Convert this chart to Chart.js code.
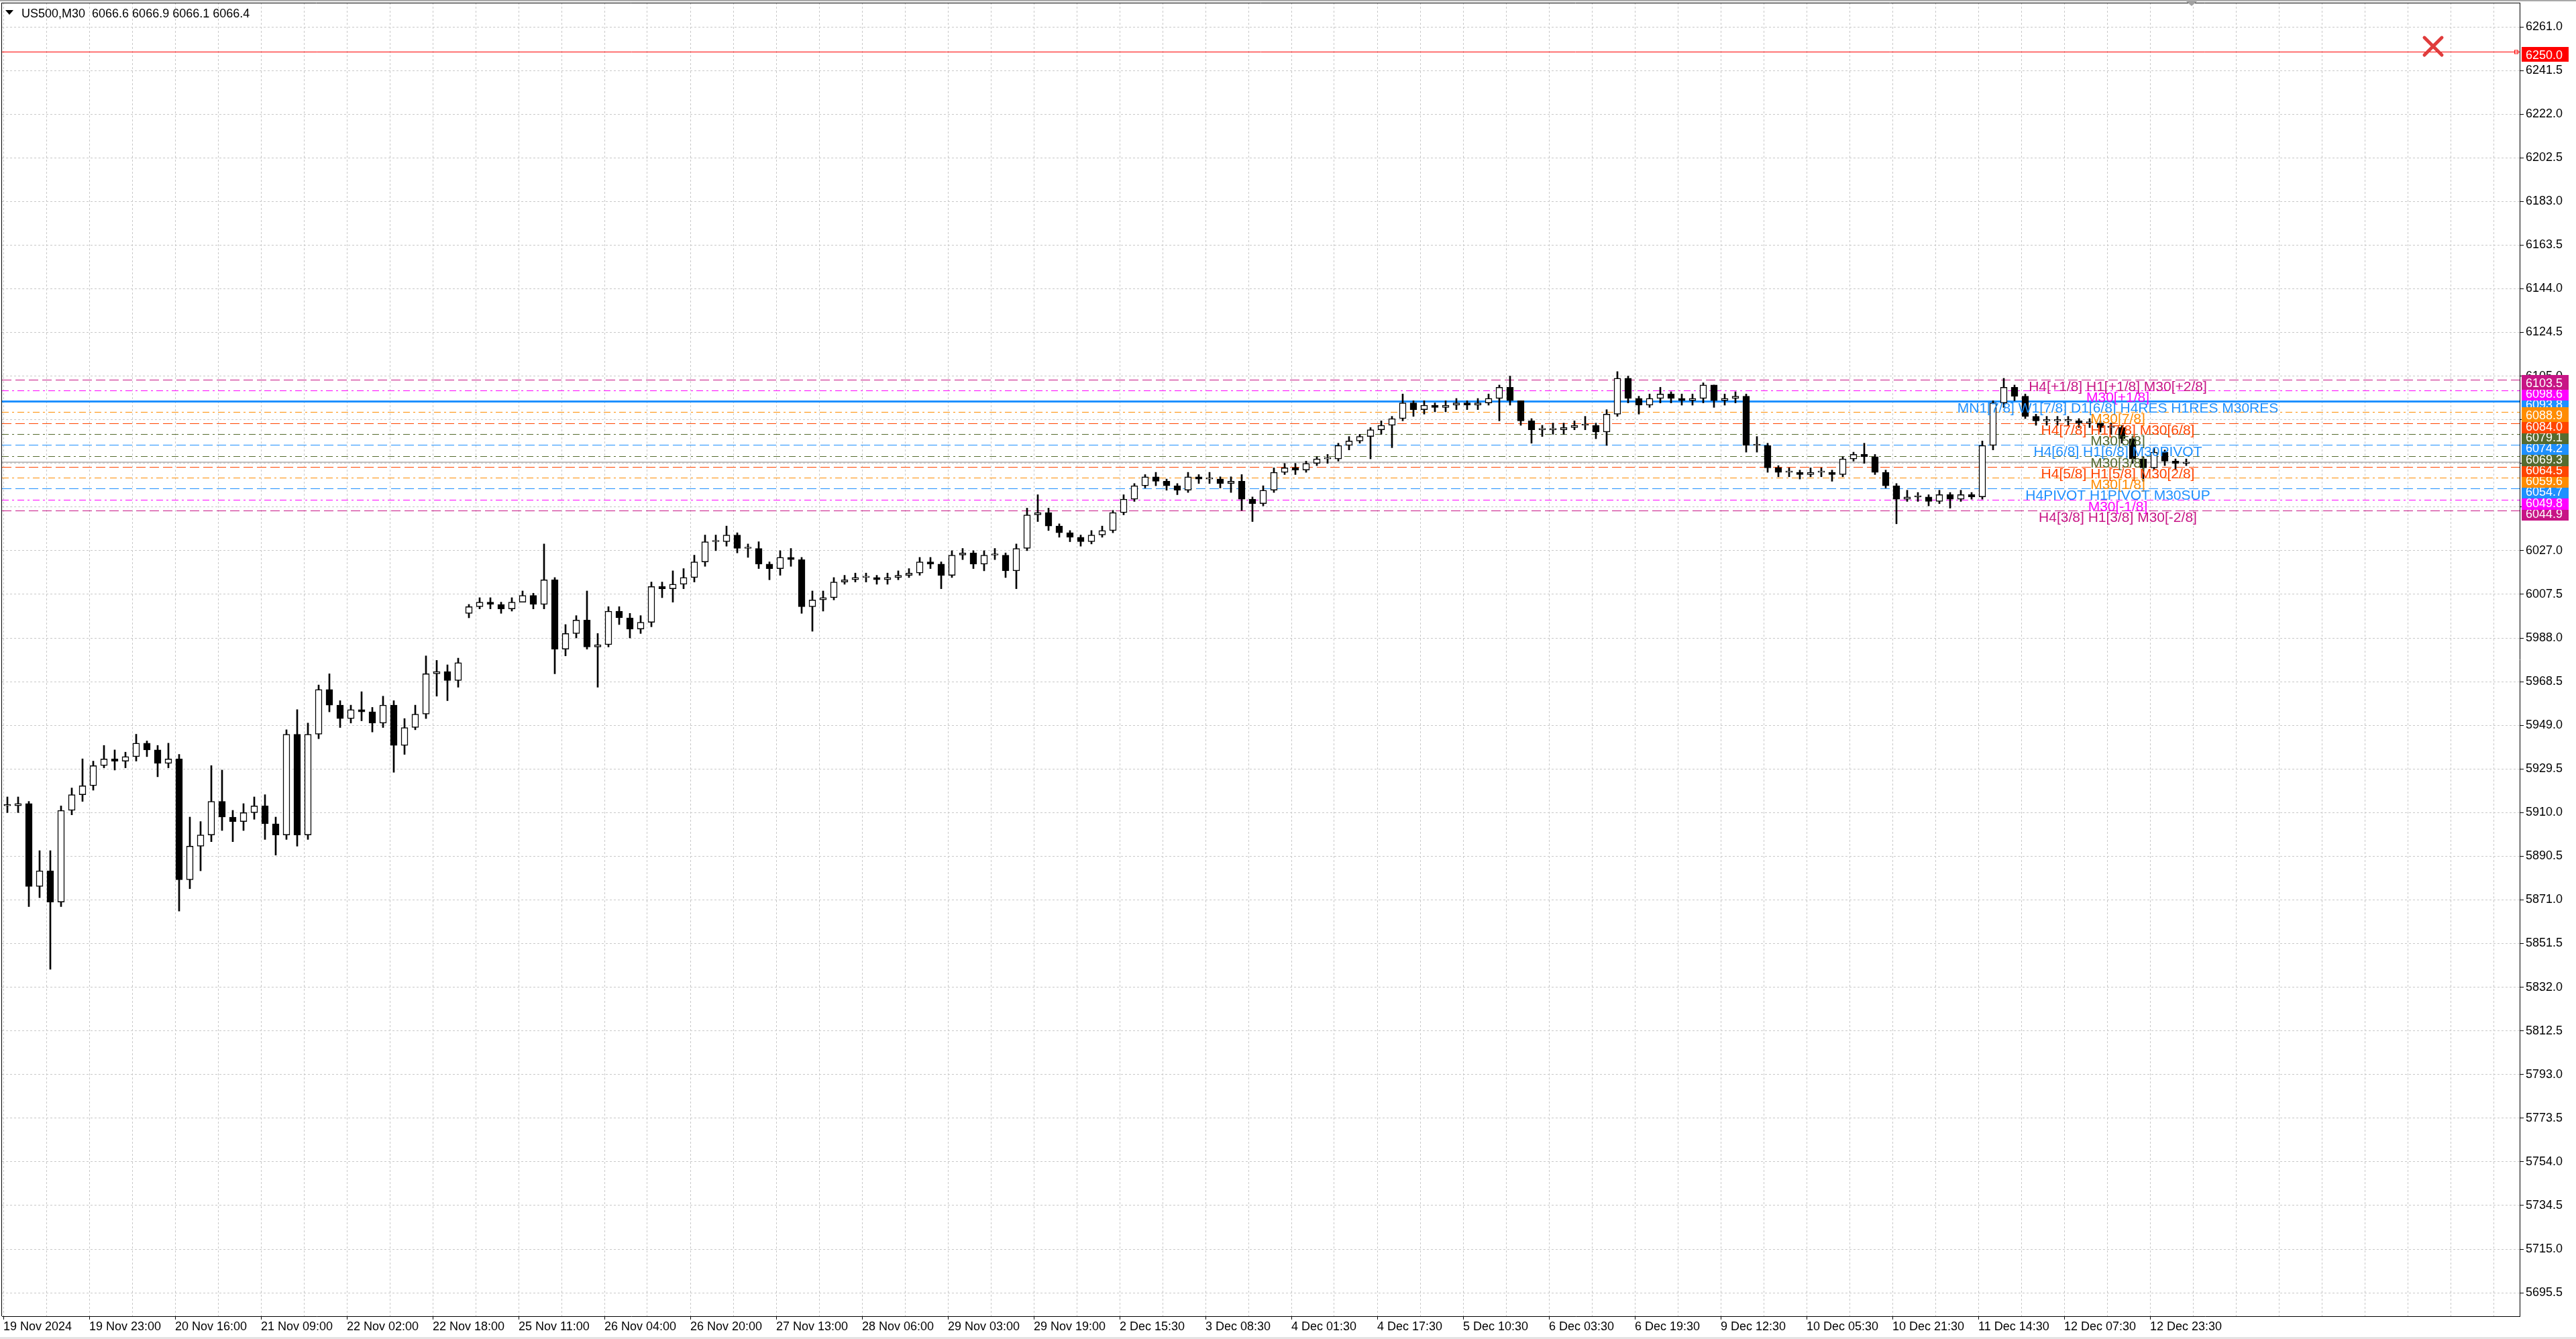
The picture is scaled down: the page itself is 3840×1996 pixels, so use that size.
<!DOCTYPE html>
<html>
<head>
<meta charset="utf-8">
<title>US500,M30</title>
<script src="https://cdn.jsdelivr.net/npm/chart.js"></script>
<style>
  html, body { margin: 0; padding: 0; background: #fff; overflow: hidden; }
  canvas { display: block; }
</style>
</head>
<body>
<canvas id="chart" width="3840" height="1996"></canvas>
<script>
// ================== ДАННЫЕ ================== //

// Подписи оси времени (каждые 32 бара M30)
const timeLabels = [
  '19 Nov 2024', '19 Nov 23:00', '20 Nov 16:00', '21 Nov 09:00', '22 Nov 02:00', '22 Nov 18:00',
  '25 Nov 11:00', '26 Nov 04:00', '26 Nov 20:00', '27 Nov 13:00', '28 Nov 06:00', '29 Nov 03:00',
  '29 Nov 19:00', '2 Dec 15:30', '3 Dec 08:30', '4 Dec 01:30', '4 Dec 17:30', '5 Dec 10:30',
  '6 Dec 03:30', '6 Dec 19:30', '9 Dec 12:30', '10 Dec 05:30', '10 Dec 21:30', '11 Dec 14:30',
  '12 Dec 07:30', '12 Dec 23:30'
];

// Деления ценовой шкалы
const priceTicks = [
  5695.5, 5715.0, 5734.5, 5754.0, 5773.5, 5793.0, 5812.5, 5832.0, 5851.5, 5871.0,
  5890.5, 5910.0, 5929.5, 5949.0, 5968.5, 5988.0, 6007.5, 6027.0, 6046.5, 6066.0,
  6085.5, 6105.0, 6124.5, 6144.0, 6163.5, 6183.0, 6202.5, 6222.0, 6241.5, 6261.0
];

// Свечи (по 4 бара M30 на свечу)
const opens = [
  5913, 5913, 5914, 5877, 5884, 5870, 5911, 5918, 5922, 5931,
  5934, 5933, 5935, 5941, 5938, 5932, 5934, 5880, 5895, 5900,
  5915, 5908, 5906, 5910, 5913, 5905, 5900, 5945, 5900, 5945,
  5965, 5958, 5952, 5956, 5955, 5950, 5958, 5940, 5948, 5954,
  5972, 5973, 5969, 5999, 6002, 6004, 6003, 6001, 6004, 6007,
  6003, 6014, 5983, 5990, 5996, 5984, 5985, 6000, 5997, 5992,
  5995, 6011, 6010, 6012, 6015, 6022, 6031, 6031, 6034, 6028,
  6028, 6021, 6019, 6024, 6023, 6002, 6005, 6006, 6013, 6014,
  6015, 6015, 6014, 6015, 6016, 6017, 6022, 6021, 6016, 6025,
  6026, 6021, 6025, 6025, 6018, 6028, 6043, 6044, 6038, 6035,
  6033, 6031, 6034, 6036, 6044, 6050, 6056, 6060, 6058, 6056,
  6054, 6060, 6059, 6059, 6057, 6058, 6050, 6048, 6054, 6062,
  6064, 6063, 6066, 6068, 6068, 6074, 6076, 6078, 6081, 6083,
  6086, 6093, 6090, 6092, 6091, 6092, 6093, 6092, 6093, 6095,
  6100, 6094, 6085, 6081, 6081, 6081, 6082, 6083, 6083, 6080,
  6088, 6104, 6095, 6092, 6095, 6097, 6095, 6094, 6095, 6101,
  6094, 6095, 6096, 6074, 6074, 6064, 6062, 6062, 6061, 6062,
  6062, 6061, 6068, 6070, 6069, 6062, 6056, 6050, 6051, 6051,
  6049, 6052, 6050, 6052, 6051, 6074, 6093, 6100, 6096, 6087,
  6085, 6085, 6085, 6085, 6084, 6084, 6082, 6082, 6077, 6068,
  6064, 6071, 6067, 6066
];
const highs = [
  5917, 5917, 5915, 5893, 5893, 5913, 5921, 5934, 5933, 5940,
  5938, 5937, 5945, 5942, 5940, 5941, 5936, 5908, 5906, 5931,
  5929, 5911, 5914, 5917, 5918, 5908, 5947, 5956, 5950, 5967,
  5972, 5960, 5958, 5964, 5957, 5962, 5960, 5952, 5958, 5980,
  5978, 5976, 5979, 6003, 6006, 6006, 6004, 6006, 6009, 6008,
  6030, 6015, 5994, 5998, 6009, 5990, 6002, 6002, 5999, 5998,
  6013, 6013, 6018, 6019, 6025, 6034, 6034, 6038, 6035, 6030,
  6031, 6022, 6027, 6028, 6024, 6009, 6009, 6015, 6016, 6017,
  6017, 6016, 6017, 6018, 6019, 6024, 6024, 6022, 6027, 6028,
  6027, 6027, 6028, 6026, 6030, 6046, 6052, 6046, 6039, 6036,
  6034, 6036, 6038, 6045, 6052, 6057, 6061, 6062, 6059, 6057,
  6062, 6061, 6062, 6060, 6060, 6061, 6051, 6056, 6064, 6066,
  6066, 6067, 6069, 6070, 6075, 6078, 6079, 6082, 6085, 6087,
  6097, 6094, 6094, 6093, 6094, 6095, 6094, 6095, 6097, 6101,
  6105, 6094, 6086, 6083, 6084, 6084, 6085, 6087, 6084, 6090,
  6107, 6105, 6096, 6097, 6100, 6098, 6097, 6097, 6102, 6101,
  6097, 6098, 6097, 6078, 6075, 6065, 6064, 6063, 6064, 6064,
  6063, 6069, 6071, 6075, 6070, 6063, 6057, 6054, 6053, 6052,
  6054, 6053, 6054, 6053, 6076, 6094, 6104, 6101, 6097, 6088,
  6087, 6087, 6087, 6086, 6086, 6085, 6084, 6083, 6078, 6069,
  6073, 6072, 6068, 6068
];
const lows = [
  5910, 5910, 5868, 5872, 5840, 5868, 5909, 5915, 5920, 5930,
  5929, 5930, 5933, 5935, 5926, 5930, 5866, 5876, 5884, 5897,
  5902, 5897, 5902, 5907, 5898, 5891, 5898, 5895, 5898, 5943,
  5955, 5948, 5950, 5951, 5946, 5948, 5928, 5936, 5947, 5952,
  5962, 5960, 5966, 5997, 6001, 6001, 5999, 6000, 6004, 6001,
  6001, 5972, 5980, 5988, 5983, 5966, 5984, 5994, 5988, 5990,
  5993, 6006, 6004, 6010, 6013, 6020, 6027, 6029, 6026, 6024,
  6019, 6014, 6016, 6020, 5999, 5991, 6000, 6005, 6012, 6013,
  6013, 6012, 6012, 6014, 6015, 6016, 6019, 6010, 6015, 6023,
  6019, 6018, 6023, 6015, 6010, 6027, 6040, 6036, 6033, 6031,
  6029, 6030, 6033, 6035, 6043, 6049, 6055, 6056, 6054, 6052,
  6053, 6057, 6057, 6055, 6053, 6045, 6040, 6047, 6053, 6061,
  6061, 6062, 6065, 6066, 6067, 6072, 6075, 6068, 6079, 6073,
  6085, 6087, 6088, 6089, 6089, 6090, 6090, 6090, 6092, 6085,
  6092, 6083, 6075, 6078, 6079, 6079, 6081, 6081, 6077, 6074,
  6087, 6093, 6088, 6091, 6093, 6093, 6092, 6092, 6093, 6091,
  6092, 6093, 6071, 6071, 6062, 6060, 6060, 6059, 6060, 6060,
  6058, 6060, 6067, 6066, 6061, 6055, 6039, 6049, 6049, 6047,
  6048, 6046, 6049, 6050, 6050, 6072, 6091, 6094, 6086, 6083,
  6083, 6083, 6083, 6082, 6082, 6080, 6079, 6075, 6066, 6058,
  6063, 6065, 6063, 6065
];
const closes = [
  5913, 5914, 5877, 5884, 5870, 5911, 5918, 5922, 5931, 5934,
  5933, 5935, 5941, 5938, 5932, 5934, 5880, 5895, 5900, 5915,
  5908, 5906, 5910, 5913, 5905, 5900, 5945, 5900, 5945, 5965,
  5958, 5952, 5956, 5955, 5950, 5958, 5940, 5948, 5954, 5972,
  5973, 5969, 5977, 6002, 6004, 6003, 6001, 6004, 6007, 6003,
  6014, 5983, 5990, 5996, 5984, 5985, 6000, 5997, 5992, 5995,
  6011, 6010, 6012, 6015, 6022, 6031, 6031, 6034, 6028, 6028,
  6021, 6019, 6024, 6023, 6002, 6005, 6006, 6013, 6014, 6015,
  6015, 6014, 6015, 6016, 6017, 6022, 6021, 6016, 6025, 6026,
  6021, 6025, 6025, 6018, 6028, 6043, 6044, 6038, 6035, 6033,
  6031, 6034, 6036, 6044, 6050, 6056, 6060, 6058, 6056, 6054,
  6060, 6059, 6059, 6057, 6058, 6050, 6048, 6054, 6062, 6064,
  6063, 6066, 6068, 6068, 6074, 6076, 6078, 6081, 6083, 6086,
  6093, 6090, 6092, 6091, 6092, 6093, 6092, 6093, 6095, 6100,
  6094, 6085, 6081, 6081, 6081, 6082, 6083, 6083, 6080, 6088,
  6104, 6095, 6092, 6095, 6097, 6095, 6094, 6095, 6101, 6094,
  6095, 6096, 6074, 6074, 6064, 6062, 6062, 6061, 6062, 6062,
  6061, 6068, 6070, 6069, 6062, 6056, 6050, 6051, 6051, 6049,
  6052, 6050, 6052, 6051, 6074, 6093, 6100, 6096, 6087, 6085,
  6085, 6085, 6085, 6084, 6084, 6082, 6082, 6077, 6068, 6064,
  6071, 6067, 6066, 6066.4
];

// Уровни Мюррея
const levelPrices = [6103.5, 6098.6, 6093.8, 6088.9, 6084.0, 6079.1, 6074.2, 6069.3, 6064.5, 6059.6, 6054.7, 6049.8, 6044.9];
const levelNames = [
  'H4[+1/8] H1[+1/8] M30[+2/8]',
  'M30[+1/8]',
  'MN1[7/8] W1[7/8] D1[6/8] H4RES H1RES M30RES',
  'M30[7/8]',
  'H4[7/8] H1[7/8] M30[6/8]',
  'M30[5/8]',
  'H4[6/8] H1[6/8] M30PIVOT',
  'M30[3/8]',
  'H4[5/8] H1[5/8] M30[2/8]',
  'M30[1/8]',
  'H4PIVOT H1PIVOT M30SUP',
  'M30[-1/8]',
  'H4[3/8] H1[3/8] M30[-2/8]'
];

const alertPrice = 6250.0;
const bidPrice = 6066.4;
const headerText = 'US500,M30  6066.6 6066.9 6066.1 6066.4';

// ================== КОНФИГУРАЦИЯ ================== //
const CONFIG = {
  barsPerCandle: 4,
  candleShift: 1.5,
  barsPerLabel: 32,
  barsPerGrid: 16,
  xMin: -0.5,
  xMax: 937.75,
  yMin: 5685.04,
  yMax: 6271.79,
  labelBar: 788,
  closeBar: 905.5,
  closePrice: 6252.3,
  font: '"Liberation Sans", Arial, sans-serif',
  colors: {
    grid: '#c8c8c8',
    axis: '#000000',
    bid: '#c0c0c0',
    alert: '#ff0000',
    closeMark: '#e03c3c'
  }
};

const LEVEL_STYLE = {
  violet: '#C71585', magenta: '#FF00FF', blue: '#1E90FF',
  orange: '#FF8C00', orangered: '#FF4500', olive: '#556B2F',
  dash: [14, 6], dashdot: [10, 5, 3, 5]
};
const levelStyles = [
  { color: LEVEL_STYLE.violet, dash: LEVEL_STYLE.dash, width: 1 },
  { color: LEVEL_STYLE.magenta, dash: LEVEL_STYLE.dashdot, width: 1 },
  { color: LEVEL_STYLE.blue, dash: [], width: 3 },
  { color: LEVEL_STYLE.orange, dash: LEVEL_STYLE.dashdot, width: 1 },
  { color: LEVEL_STYLE.orangered, dash: LEVEL_STYLE.dash, width: 1 },
  { color: LEVEL_STYLE.olive, dash: LEVEL_STYLE.dashdot, width: 1 },
  { color: LEVEL_STYLE.blue, dash: LEVEL_STYLE.dash, width: 1 },
  { color: LEVEL_STYLE.olive, dash: LEVEL_STYLE.dashdot, width: 1 },
  { color: LEVEL_STYLE.orangered, dash: LEVEL_STYLE.dash, width: 1 },
  { color: LEVEL_STYLE.orange, dash: LEVEL_STYLE.dashdot, width: 1 },
  { color: LEVEL_STYLE.blue, dash: LEVEL_STYLE.dash, width: 1 },
  { color: LEVEL_STYLE.magenta, dash: LEVEL_STYLE.dashdot, width: 1 },
  { color: LEVEL_STYLE.violet, dash: LEVEL_STYLE.dash, width: 1 }
];

// ================== ОТРИСОВКА ================== //

/**
 * Горизонтальная линия через всю область графика
 */
function drawHLine(ctx, area, yPix, color, width, dash) {
  const yy = width % 2 ? Math.round(yPix) + 0.5 : Math.round(yPix);
  ctx.save();
  ctx.strokeStyle = color;
  ctx.lineWidth = width;
  ctx.setLineDash(dash);
  ctx.beginPath();
  ctx.moveTo(area.left, yy);
  ctx.lineTo(area.right, yy);
  ctx.stroke();
  ctx.restore();
}

/**
 * Цветная плашка цены на правой шкале
 */
function drawPriceBox(ctx, area, yPix, text, color) {
  const top = Math.round(yPix) - 7;
  ctx.fillStyle = color;
  ctx.fillRect(area.right + 3, top, 70, 22);
  ctx.fillStyle = '#ffffff';
  ctx.font = '18px ' + CONFIG.font;
  ctx.textAlign = 'left';
  ctx.textBaseline = 'alphabetic';
  ctx.fillText(text, area.right + 9, top + 18);
}

const overlayPlugin = {
  id: 'mtOverlay',
  beforeDatasetsDraw(chart) {
    const { ctx, chartArea: area, scales: { y } } = chart;
    ctx.save();
    ctx.beginPath();
    ctx.rect(area.left, area.top, area.right - area.left, area.bottom - area.top);
    ctx.clip();

    drawHLine(ctx, area, y.getPixelForValue(bidPrice), CONFIG.colors.bid, 2, []);
    drawHLine(ctx, area, y.getPixelForValue(alertPrice), CONFIG.colors.alert, 1, []);
    levelPrices.forEach((p, i) => {
      const st = levelStyles[i];
      drawHLine(ctx, area, y.getPixelForValue(p), st.color, st.width, st.dash);
    });

    // маркер на конце линии алерта
    const ay = Math.round(y.getPixelForValue(alertPrice)) + 0.5;
    ctx.strokeStyle = CONFIG.colors.alert;
    ctx.lineWidth = 1;
    ctx.strokeRect(area.right - 7.5, ay - 2.5, 5, 5);
    ctx.restore();
  },

  afterDatasetsDraw(chart) {
    const { ctx, scales: { x, y } } = chart;
    ctx.save();

    // Подписи уровней
    const cx = x.getPixelForValue(CONFIG.labelBar);
    ctx.font = '21px ' + CONFIG.font;
    ctx.textAlign = 'center';
    ctx.textBaseline = 'alphabetic';
    levelPrices.forEach((p, i) => {
      ctx.fillStyle = levelStyles[i].color;
      ctx.fillText(levelNames[i], cx, Math.round(y.getPixelForValue(p)) + 17);
    });

    // Кнопка закрытия (красный крест)
    const kx = x.getPixelForValue(CONFIG.closeBar);
    const ky = y.getPixelForValue(CONFIG.closePrice);
    ctx.strokeStyle = CONFIG.colors.closeMark;
    ctx.lineWidth = 5;
    ctx.lineCap = 'round';
    ctx.beginPath();
    ctx.moveTo(kx - 13, ky - 13); ctx.lineTo(kx + 13, ky + 13);
    ctx.moveTo(kx + 13, ky - 13); ctx.lineTo(kx - 13, ky + 13);
    ctx.stroke();

    // Заголовок
    ctx.fillStyle = '#000';
    ctx.beginPath();
    ctx.moveTo(8, 15); ctx.lineTo(20, 15); ctx.lineTo(14, 22);
    ctx.closePath();
    ctx.fill();
    ctx.font = '18px ' + CONFIG.font;
    ctx.textAlign = 'left';
    ctx.fillText(headerText, 32, 26);
    ctx.restore();
  },

  afterDraw(chart) {
    const { ctx, chartArea: area, scales: { y } } = chart;
    ctx.save();

    // Плашки уровней: синяя первой, потом снизу вверх
    const order = [2];
    for (let i = levelPrices.length - 1; i >= 0; i--) if (i !== 2) order.push(i);
    order.forEach(i => {
      drawPriceBox(ctx, area, y.getPixelForValue(levelPrices[i]), levelPrices[i].toFixed(1), levelStyles[i].color);
    });
    drawPriceBox(ctx, area, y.getPixelForValue(alertPrice), alertPrice.toFixed(1), CONFIG.colors.alert);

    // Рамка окна
    ctx.strokeStyle = '#000';
    ctx.lineWidth = 1;
    ctx.beginPath();
    ctx.moveTo(area.left - 0.5, area.top + 0.5);
    ctx.lineTo(area.right, area.top + 0.5);
    ctx.moveTo(area.left - 0.5, area.top);
    ctx.lineTo(area.left - 0.5, area.bottom);
    ctx.stroke();

    ctx.fillStyle = '#a8a8a8';
    ctx.fillRect(0, 0, chart.width, 2);
    ctx.fillStyle = '#e4e4e4';
    ctx.fillRect(0, chart.height - 3, chart.width, 3);

    // Метка сдвига графика
    ctx.fillStyle = '#a0a0a0';
    ctx.beginPath();
    ctx.moveTo(3259, 2); ctx.lineTo(3275, 2); ctx.lineTo(3267, 9);
    ctx.closePath();
    ctx.fill();
    ctx.restore();
  }
};

/**
 * Построение графика
 */
function renderChart() {
  Chart.defaults.font.family = CONFIG.font;

  const xOf = i => i * CONFIG.barsPerCandle + CONFIG.candleShift;
  const wicks = highs.map((h, i) => ({ x: xOf(i), y: [lows[i], h] }));
  const bodies = closes.map((c, i) => ({ x: xOf(i), y: [opens[i], c] }));

  return new Chart(document.getElementById('chart').getContext('2d'), {
    type: 'bar',
    data: {
      datasets: [
        {
          data: wicks,
          backgroundColor: '#000',
          barThickness: 2,
          grouped: false,
          order: 2
        },
        {
          data: bodies,
          backgroundColor: c => (c.raw && c.raw.y[1] >= c.raw.y[0]) ? '#ffffff' : '#000000',
          borderColor: '#000',
          borderWidth: 1.5,
          borderSkipped: false,
          minBarLength: 2,
          barThickness: 10,
          grouped: false,
          order: 1
        }
      ]
    },
    options: {
      responsive: false,
      maintainAspectRatio: false,
      animation: false,
      layout: { padding: { left: 3, top: 4, right: 0, bottom: 0 } },
      plugins: {
        legend: { display: false },
        tooltip: { enabled: false }
      },
      scales: {
        x: {
          type: 'linear',
          min: CONFIG.xMin,
          max: CONFIG.xMax,
          offset: false,
          afterBuildTicks: scale => {
            const t = [];
            for (let v = 0; v <= CONFIG.xMax; v += CONFIG.barsPerGrid) t.push({ value: v });
            scale.ticks = t;
          },
          afterFit: scale => {
            scale.height = 34;
            scale.paddingLeft = 0;
            scale.paddingRight = 0;
          },
          ticks: {
            autoSkip: false,
            maxRotation: 0,
            minRotation: 0,
            align: 'start',
            padding: 0,
            color: '#000',
            font: { size: 18 },
            callback: v => (v % CONFIG.barsPerLabel === 0 ? (timeLabels[v / CONFIG.barsPerLabel] || '') : '')
          },
          grid: {
            color: CONFIG.colors.grid,
            offset: false,
            tickLength: 5,
            tickBorderDash: [],
            tickColor: c => (c.tick && c.tick.value % CONFIG.barsPerLabel === 0 &&
              timeLabels[c.tick.value / CONFIG.barsPerLabel]) ? '#000' : 'rgba(0,0,0,0)'
          },
          border: { display: true, color: CONFIG.colors.axis, width: 1, dash: [3, 3] }
        },
        y: {
          position: 'right',
          min: CONFIG.yMin,
          max: CONFIG.yMax,
          afterBuildTicks: scale => {
            scale.ticks = priceTicks.map(v => ({ value: v }));
          },
          afterFit: scale => {
            scale.width = 84;
            scale.paddingTop = 0;
            scale.paddingBottom = 0;
          },
          ticks: {
            padding: 3,
            color: '#000',
            font: { size: 18 },
            callback: v => Number(v).toFixed(1)
          },
          grid: {
            color: CONFIG.colors.grid,
            tickLength: 6,
            tickColor: '#000',
            tickBorderDash: []
          },
          border: { display: true, color: CONFIG.colors.axis, width: 1, dash: [3, 3] }
        }
      }
    },
    plugins: [overlayPlugin]
  });
}

renderChart();
</script>
</body>
</html>
